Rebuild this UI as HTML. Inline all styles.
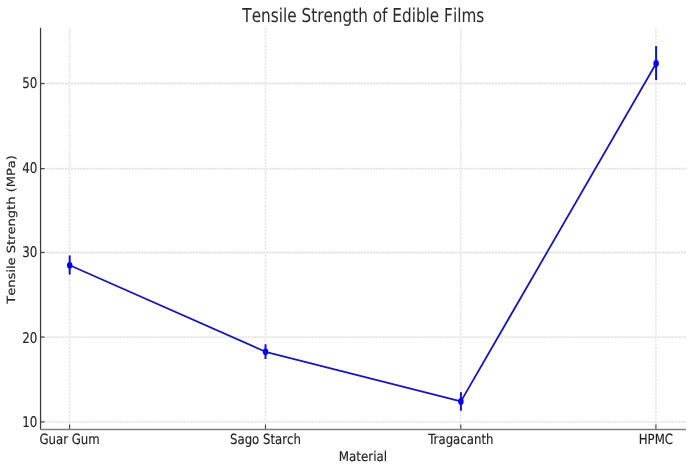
<!DOCTYPE html>
<html><head><meta charset="utf-8"><title>Tensile Strength of Edible Films</title>
<style>
html,body{margin:0;padding:0;background:#fff;}
body{width:691px;height:472px;overflow:hidden;}
svg{display:block;will-change:transform;}
text{text-rendering:geometricPrecision;font-kerning:none;font-family:'DejaVu Sans', 'Liberation Sans', sans-serif;fill:#222;stroke:#222;stroke-width:0.15px;}
</style></head><body>
<svg width="691" height="472" viewBox="0 0 691 472">
<rect width="691" height="472" fill="#fff"/>
<line x1="69.6" y1="27.7" x2="69.6" y2="429.3" stroke="#f6f6f6" stroke-width="1.6"/>
<line x1="69.6" y1="27.7" x2="69.6" y2="429.3" stroke="#e3e3e3" stroke-width="1.5" stroke-dasharray="1.7 1.85"/>
<line x1="265.5" y1="27.7" x2="265.5" y2="429.3" stroke="#f6f6f6" stroke-width="1.6"/>
<line x1="265.5" y1="27.7" x2="265.5" y2="429.3" stroke="#e3e3e3" stroke-width="1.5" stroke-dasharray="1.7 1.85"/>
<line x1="460.8" y1="27.7" x2="460.8" y2="429.3" stroke="#f6f6f6" stroke-width="1.6"/>
<line x1="460.8" y1="27.7" x2="460.8" y2="429.3" stroke="#e3e3e3" stroke-width="1.5" stroke-dasharray="1.7 1.85"/>
<line x1="655.9" y1="27.7" x2="655.9" y2="429.3" stroke="#f6f6f6" stroke-width="1.6"/>
<line x1="655.9" y1="27.7" x2="655.9" y2="429.3" stroke="#e3e3e3" stroke-width="1.5" stroke-dasharray="1.7 1.85"/>
<line x1="40.55" y1="421.90" x2="686.0" y2="421.90" stroke="#f6f6f6" stroke-width="2.4"/>
<line x1="40.55" y1="421.90" x2="686.0" y2="421.90" stroke="#e3e3e3" stroke-width="1.4" stroke-dasharray="2 1.05"/>
<line x1="40.55" y1="337.10" x2="686.0" y2="337.10" stroke="#f6f6f6" stroke-width="2.4"/>
<line x1="40.55" y1="337.10" x2="686.0" y2="337.10" stroke="#e3e3e3" stroke-width="1.4" stroke-dasharray="2 1.05"/>
<line x1="40.55" y1="252.50" x2="686.0" y2="252.50" stroke="#f6f6f6" stroke-width="2.4"/>
<line x1="40.55" y1="252.50" x2="686.0" y2="252.50" stroke="#e3e3e3" stroke-width="1.4" stroke-dasharray="2 1.05"/>
<line x1="40.55" y1="168.60" x2="686.0" y2="168.60" stroke="#f6f6f6" stroke-width="2.4"/>
<line x1="40.55" y1="168.60" x2="686.0" y2="168.60" stroke="#e3e3e3" stroke-width="1.4" stroke-dasharray="2 1.05"/>
<line x1="40.55" y1="83.50" x2="686.0" y2="83.50" stroke="#f6f6f6" stroke-width="2.4"/>
<line x1="40.55" y1="83.50" x2="686.0" y2="83.50" stroke="#e3e3e3" stroke-width="1.4" stroke-dasharray="2 1.05"/>
<line x1="69.6" y1="429.3" x2="69.6" y2="424.5" stroke="#454545" stroke-width="1.1"/>
<line x1="265.5" y1="429.3" x2="265.5" y2="424.5" stroke="#454545" stroke-width="1.1"/>
<line x1="460.8" y1="429.3" x2="460.8" y2="424.5" stroke="#454545" stroke-width="1.1"/>
<line x1="655.9" y1="429.3" x2="655.9" y2="424.5" stroke="#454545" stroke-width="1.1"/>
<line x1="40.55" y1="421.90" x2="44.55" y2="421.90" stroke="#454545" stroke-width="1.2"/>
<line x1="40.55" y1="337.10" x2="44.55" y2="337.10" stroke="#454545" stroke-width="1.2"/>
<line x1="40.55" y1="252.50" x2="44.55" y2="252.50" stroke="#454545" stroke-width="1.2"/>
<line x1="40.55" y1="168.60" x2="44.55" y2="168.60" stroke="#454545" stroke-width="1.2"/>
<line x1="40.55" y1="83.50" x2="44.55" y2="83.50" stroke="#454545" stroke-width="1.2"/>
<line x1="40.55" y1="27.7" x2="40.55" y2="429.90000000000003" stroke="#3a3a3a" stroke-width="1.25"/>
<line x1="39.949999999999996" y1="429.5" x2="686.0" y2="429.5" stroke="#808080" stroke-width="1.7"/>
<line x1="69.7" y1="255.5" x2="69.7" y2="274.6" stroke="#1212cc" stroke-width="2"/>
<line x1="265.5" y1="344.3" x2="265.5" y2="359.0" stroke="#1212cc" stroke-width="2"/>
<line x1="460.9" y1="392.2" x2="460.9" y2="410.7" stroke="#1212cc" stroke-width="2"/>
<line x1="656.1" y1="46.1" x2="656.1" y2="80.1" stroke="#1212cc" stroke-width="2"/>
<path d="M69.7,265.3 L265.5,351.8 L460.9,401.4 L656.1,63.5" fill="none" stroke="#1818b0" stroke-width="1.8" stroke-linejoin="round"/>
<ellipse cx="69.7" cy="265.3" rx="2.75" ry="3.4" fill="#0000ff"/>
<ellipse cx="265.5" cy="351.8" rx="2.75" ry="3.4" fill="#0000ff"/>
<ellipse cx="460.9" cy="401.4" rx="2.75" ry="3.4" fill="#0000ff"/>
<ellipse cx="656.1" cy="63.5" rx="2.75" ry="3.4" fill="#0000ff"/>
<text transform="translate(363.3,21.6) scale(0.8,1)" font-size="19.1" text-anchor="middle" style="stroke-width:0.05px;fill:#2c2c2c;stroke:#2c2c2c">Tensile Strength of Edible Films</text>
<text transform="translate(362.95,460.5) scale(0.888,1)" font-size="13.4" text-anchor="middle" >Material</text>
<text transform="translate(15.2,229.4) rotate(-90) scale(1.155,1)" font-size="11.3" text-anchor="middle" >Tensile Strength (MPa)</text>
<text transform="translate(69.6,443.6) scale(0.839,1)" font-size="14.0" text-anchor="middle" >Guar Gum</text>
<text transform="translate(265.5,443.6) scale(0.839,1)" font-size="14.0" text-anchor="middle" >Sago Starch</text>
<text transform="translate(460.8,443.6) scale(0.839,1)" font-size="14.0" text-anchor="middle" style="font-kerning:normal">Tragacanth</text>
<text transform="translate(655.9,443.6) scale(0.839,1)" font-size="14.0" text-anchor="middle" >HPMC</text>
<text transform="translate(37.45,427.1) scale(0.81,1)" font-size="14.7" text-anchor="end" >10</text>
<text transform="translate(37.45,342.6) scale(0.81,1)" font-size="14.7" text-anchor="end" >20</text>
<text transform="translate(37.45,257.2) scale(0.81,1)" font-size="14.7" text-anchor="end" >30</text>
<text transform="translate(37.45,173.4) scale(0.81,1)" font-size="14.7" text-anchor="end" >40</text>
<text transform="translate(37.45,88.1) scale(0.81,1)" font-size="14.7" text-anchor="end" >50</text>
</svg>
</body></html>
